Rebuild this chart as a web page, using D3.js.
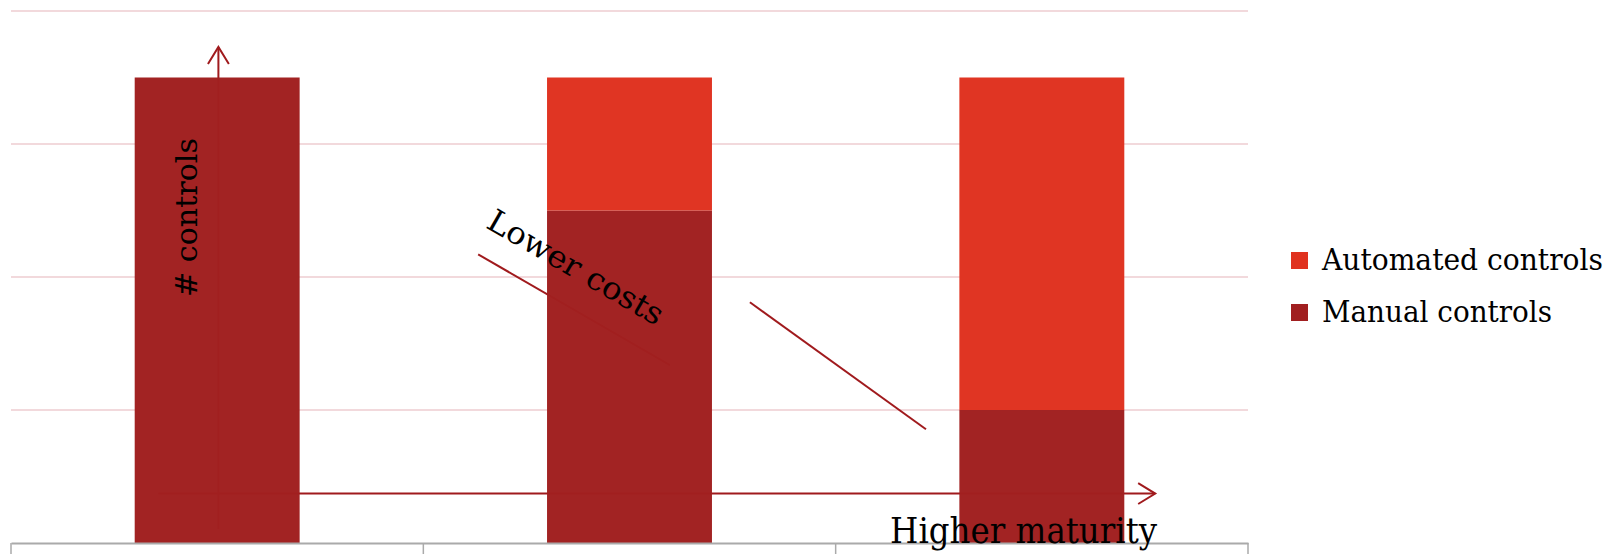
<!DOCTYPE html>
<html>
<head>
<meta charset="utf-8">
<script src="https://cdn.jsdelivr.net/npm/d3@7"></script>
<style>
	body{ margin:0; background:#fff; }
	svg text{ font-family:"DejaVu Serif", "Liberation Serif", serif; fill:#000; }
</style>
</head>
<body>
<div id="chart"></div>
<script>
	// data
	const categories = ["Level 1", "Level 2", "Level 3"];
	const manual = [3.5, 2.5, 1.0];
	const automated = [0, 1.0, 2.5];
	const yTicks = [0, 1, 2, 3, 4];
	const seriesNames = ["Automated controls", "Manual controls"];
	const seriesColors = ["#e0321f", "#a11f20"];

	const W = 1616, H = 554;
	const plot = {left: 11, right: 1248, top: 11, bottom: 543};

	const svg = d3.select("#chart").append("svg")
		.attr("width", W).attr("height", H);

	const x = d3.scaleBand().domain(categories).range([plot.left, plot.right]).padding(0);
	// continuous helper over the category axis, for the annotations
	const xc = d3.scaleLinear().domain([0, categories.length]).range([plot.left, plot.right]);
	const y = d3.scaleLinear().domain([0, 4]).range([plot.bottom, plot.top]);

	// gridlines
	svg.append("g").selectAll("line").data(yTicks.filter(d => d > 0)).join("line")
		.attr("x1", plot.left).attr("x2", plot.right)
		.attr("y1", d => y(d)).attr("y2", d => y(d))
		.attr("stroke", "#f2d9dc").attr("stroke-width", 2);

	// arrows and annotation lines, under the bars
	const red = "#a01a1d";
	const ann = svg.append("g").attr("stroke", red).attr("stroke-width", 2).attr("fill", "none");
	const arrows = [
		{x1: 0.357, y1: 0.372, x2: 2.775, y2: 0.372, head: true},
		{x1: 0.503, y1: 0.105, x2: 0.503, y2: 3.73, head: true},
		{x1: 1.133, y1: 2.17, x2: 1.598, y2: 1.338, head: false},
		{x1: 1.792, y1: 1.81, x2: 2.219, y2: 0.855, head: false}
	];
	arrows.forEach(a => {
		const X1 = xc(a.x1), Y1 = y(a.y1), X2 = xc(a.x2), Y2 = y(a.y2);
		ann.append("line").attr("x1", X1).attr("y1", Y1).attr("x2", X2).attr("y2", Y2);
		if(a.head){
			const ang = Math.atan2(Y2 - Y1, X2 - X1), L = 20, spread = 0.55;
			const p = [
				[X2 - L*Math.cos(ang - spread), Y2 - L*Math.sin(ang - spread)],
				[X2, Y2],
				[X2 - L*Math.cos(ang + spread), Y2 - L*Math.sin(ang + spread)]
			];
			ann.append("path").attr("d", d3.line()(p));
		}
	});

	// stacked bars
	const stacked = categories.map((c, i) => ({cat: c, manual: manual[i], automated: automated[i]}));
	const stack = d3.stack().keys(["manual", "automated"])(stacked);
	const barW = x.bandwidth()*0.4;
	svg.append("g").selectAll("g").data(stack).join("g")
		.attr("fill", d => d.key === "manual" ? seriesColors[1] : seriesColors[0])
		.attr("fill-opacity", 0.985)
		.selectAll("rect").data(d => d).join("rect")
			.attr("x", d => x(d.data.cat) + (x.bandwidth() - barW)/2)
			.attr("width", barW)
			.attr("y", d => y(d[1]))
			.attr("height", d => y(d[0]) - y(d[1]));

	// bottom axis
	const axis = svg.append("g").attr("transform", `translate(0,${plot.bottom})`)
		.call(d3.axisBottom(x).tickSize(0).tickFormat(""));
	axis.select(".domain").attr("stroke", "#aaaaaa").attr("stroke-width", 2);
	axis.selectAll(".b").data(d3.range(categories.length + 1)).join("line")
		.attr("x1", d => xc(d)).attr("x2", d => xc(d))
		.attr("y1", 0).attr("y2", 12)
		.attr("stroke", "#aaaaaa").attr("stroke-width", 1.5);

	// texts
	svg.append("text")
		.attr("transform", `translate(${xc(0.451)},${y(2.447)}) rotate(-90)`)
		.attr("text-anchor", "middle")
		.attr("font-size", 30)
		.attr("textLength", 159).attr("lengthAdjust", "spacingAndGlyphs")
		.text("# controls");

	svg.append("text")
		.attr("transform", `translate(${xc(1.149)},${y(2.376)}) rotate(30)`)
		.attr("font-size", 31)
		.attr("textLength", 198).attr("lengthAdjust", "spacingAndGlyphs")
		.text("Lower costs");

	svg.append("text")
		.attr("x", xc(2.132)).attr("y", y(0))
		.attr("font-size", 35)
		.attr("textLength", 267).attr("lengthAdjust", "spacingAndGlyphs")
		.text("Higher maturity");

	// legend
	const legend = svg.append("g").attr("transform", "translate(1291,252)");
	const lg = legend.selectAll("g").data(seriesNames).join("g")
		.attr("transform", (d, i) => `translate(0,${i*52})`);
	lg.append("rect").attr("width", 17).attr("height", 17)
		.attr("fill", (d, i) => seriesColors[i]);
	lg.append("text").attr("x", 31).attr("y", 18)
		.attr("font-size", 29)
		.attr("textLength", (d, i) => i === 0 ? 281 : 230).attr("lengthAdjust", "spacingAndGlyphs")
		.text(d => d);
</script>
</body>
</html>
